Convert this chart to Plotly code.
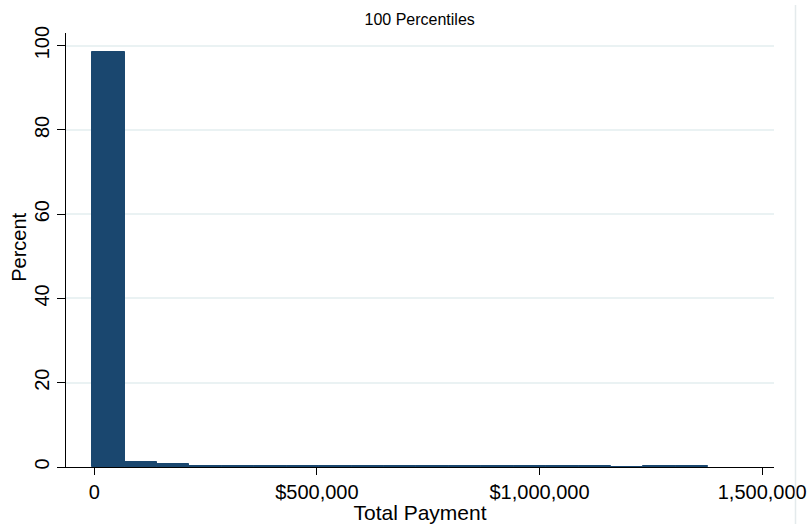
import plotly.graph_objects as go

# Histogram of total payment: percent of observations in each bin
bin_start = -4500
bin_width = 72800
percent = [98.5, 1.2, 0.6, 0.2, 0.2, 0.2, 0.2, 0.2, 0.2, 0.2,
           0.2, 0.2, 0.2, 0.2, 0.2, 0.2, 0.0, 0.2, 0.2]

x_tickvals = [0, 500000, 1000000, 1500000]
x_ticktext = ["0", "$500,000", "$1,000,000", "1,500,000"]
y_tickvals = [0, 20, 40, 60, 80, 100]

centers = [bin_start + bin_width * (i + 0.5) for i in range(len(percent))]

NAVY = "#1A476F"
GRID = "#EAF2F3"
FONT = "Liberation Sans, Arial, sans-serif"

fig = go.Figure(
    go.Bar(
        x=centers,
        y=percent,
        width=[bin_width] * len(percent),
        marker=dict(color=NAVY, line=dict(color=NAVY, width=1)),
        hovertemplate="%{x}<br>%{y}%<extra></extra>",
    )
)

fig.update_layout(
    width=811,
    height=524,
    margin=dict(l=66, r=37, t=33, b=57),
    paper_bgcolor="white",
    plot_bgcolor="white",
    showlegend=False,
    bargap=0,
    font=dict(family=FONT, color="#000000", size=20),
    title=dict(
        text="100 Percentiles",
        x=0.5175,
        xanchor="center",
        y=1 - 19 / 524,
        yanchor="middle",
        yref="container",
        font=dict(family=FONT, size=16, color="#000000"),
    ),
    annotations=[
        dict(
            text="Percent",
            xref="paper",
            yref="paper",
            x=(19 - 66) / 708,
            y=0.505,
            xanchor="center",
            yanchor="middle",
            textangle=-90,
            showarrow=False,
            font=dict(family=FONT, size=20, color="#000000"),
        )
    ],
    # faint border on the right side of the graph region
    shapes=[
        dict(
            type="line",
            xref="paper",
            yref="paper",
            x0=1 + (795.5 - 774) / 708,
            x1=1 + (795.5 - 774) / 708,
            y0=-57 / 434,
            y1=1 + 28 / 434,
            line=dict(color="#E4EAEC", width=1.5),
        )
    ],
)

fig.update_xaxes(
    range=[-63400, 1526500],
    automargin=False,
    tickvals=x_tickvals,
    ticktext=x_ticktext,
    ticks="outside",
    ticklen=7,
    tickwidth=1.2,
    tickcolor="#000000",
    showline=True,
    linecolor="#000000",
    linewidth=1.2,
    showgrid=False,
    zeroline=False,
    tickfont=dict(size=20),
    title=dict(text="Total Payment", standoff=0, font=dict(size=21)),
)

fig.update_yaxes(
    range=[0, 103],
    automargin=False,
    tickvals=y_tickvals,
    ticks="outside",
    ticklen=8,
    tickwidth=1.2,
    tickcolor="#000000",
    tickangle=-90,
    showline=True,
    linecolor="#000000",
    linewidth=1.2,
    showgrid=True,
    gridcolor=GRID,
    gridwidth=1.5,
    zeroline=False,
    tickfont=dict(size=20),
)

fig.write_html("out.html")
